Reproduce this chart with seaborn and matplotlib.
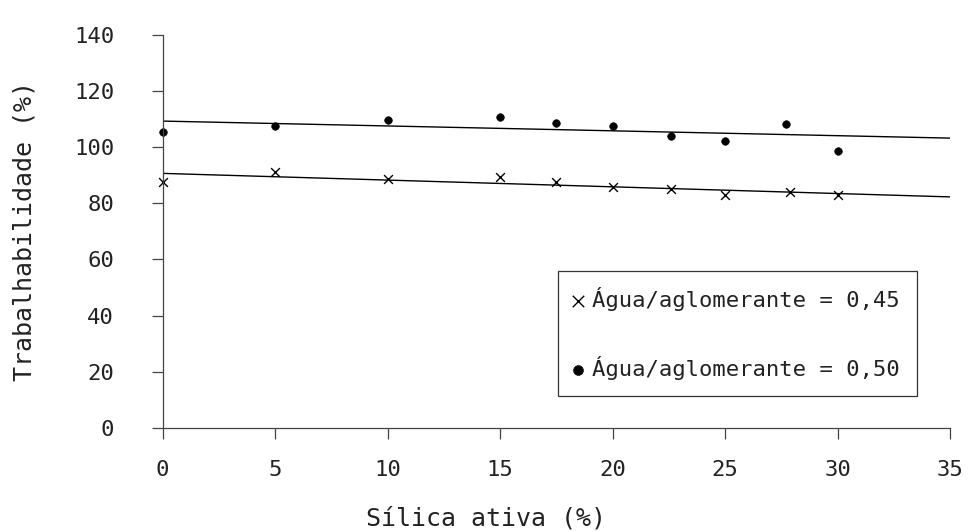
import numpy as np
import pandas as pd
import seaborn as sns
import matplotlib.pyplot as plt

# data
silica_045 = [0, 5, 10, 15, 17.5, 20, 22.6, 25, 27.9, 30]
trab_045 = [87.7, 91.2, 88.6, 89.2, 87.5, 85.9, 85.1, 82.9, 83.9, 82.9]

silica_050 = [0, 5, 10, 15, 17.5, 20, 22.6, 25, 27.7, 30]
trab_050 = [105.3, 107.6, 109.6, 110.8, 108.7, 107.6, 104.0, 102.0, 108.2, 98.7]

labels = ['Água/aglomerante = 0,45', 'Água/aglomerante = 0,50']
x_ticks = [0, 5, 10, 15, 20, 25, 30, 35]
y_ticks = [0, 20, 40, 60, 80, 100, 120, 140]

df45 = pd.DataFrame({'silica': silica_045, 'trab': trab_045})
df50 = pd.DataFrame({'silica': silica_050, 'trab': trab_050})

sns.set_style('ticks')
plt.rcParams['font.family'] = ['DejaVu Sans Mono', 'DejaVu Sans']
plt.rcParams['text.color'] = '#222222'
plt.rcParams['xtick.labelcolor'] = '#222222'
plt.rcParams['ytick.labelcolor'] = '#222222'
plt.rcParams['axes.labelcolor'] = '#222222'

fig = plt.figure(figsize=(9.77, 5.31), dpi=100)
ax = fig.add_axes([0.1665, 0.194, 0.8059, 0.7407])
ax.set_xlim(0, 35)
ax.set_ylim(0, 140)

# trend lines (fitted, spanning the whole x range)
sns.regplot(x='silica', y='trab', data=df45, ax=ax, scatter=False, ci=None,
            truncate=False, line_kws={'color': 'black', 'lw': 1.0})
sns.regplot(x='silica', y='trab', data=df50, ax=ax, scatter=False, ci=None,
            truncate=False, line_kws={'color': 'black', 'lw': 1.0})

sns.scatterplot(x='silica', y='trab', data=df45, ax=ax, marker='x', s=40,
                color='black', linewidth=1.0, label=labels[0], clip_on=False)
sns.scatterplot(x='silica', y='trab', data=df50, ax=ax, marker='o', s=30,
                color='black', edgecolor='black', label=labels[1], clip_on=False)

ax.set_xlim(0, 35)
ax.set_ylim(0, 140)
ax.set_xticks(x_ticks)
ax.set_yticks(y_ticks)
ax.tick_params(axis='both', direction='out', length=8, width=0.9,
               color='#444444', labelsize=16)
ax.tick_params(axis='y', pad=27)
ax.tick_params(axis='x', pad=15)
sns.despine(ax=ax)
for s in ['left', 'bottom']:
    ax.spines[s].set_color('#444444')
    ax.spines[s].set_linewidth(0.9)

ax.set_xlabel('Sílica ativa (%)', fontsize=18)
ax.set_ylabel('Trabalhabilidade (%)', fontsize=18)
ax.xaxis.set_label_coords(0.411, -0.2)
ax.yaxis.set_label_coords(-0.16, 0.5)

leg = ax.legend(loc='upper left', bbox_to_anchor=(0.5025, 0.40), fontsize=16,
                frameon=True, fancybox=False, edgecolor='black',
                handlelength=0.3, handletextpad=0.48, labelspacing=2.0,
                borderpad=0.75, borderaxespad=0, markerscale=1.3)
leg.get_frame().set_linewidth(0.9)

fig.savefig('out.png', dpi=100)
